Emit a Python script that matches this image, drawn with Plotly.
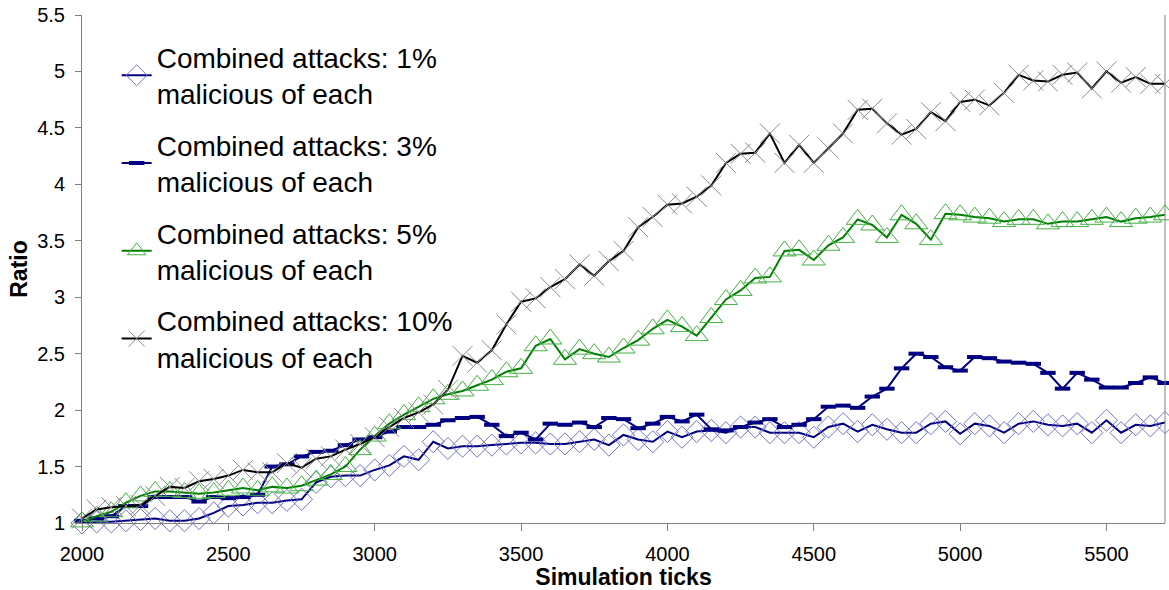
import plotly.graph_objects as go

# Simulation ticks sampled every 50 ticks from 2000 to 5700
ticks = list(range(2000, 5701, 50))

ratio_1pct = [1.00, 1.01, 1.01, 1.02, 1.03, 1.04, 1.02, 1.02, 1.04, 1.09,
              1.15, 1.16, 1.18, 1.18, 1.20, 1.21, 1.36, 1.41, 1.42, 1.42,
              1.47, 1.51, 1.59, 1.56, 1.72, 1.66, 1.68, 1.68, 1.69, 1.70,
              1.71, 1.71, 1.70, 1.70, 1.72, 1.74, 1.69, 1.78, 1.74, 1.72,
              1.81, 1.76, 1.81, 1.82, 1.80, 1.85, 1.85, 1.80, 1.80, 1.80,
              1.76, 1.85, 1.88, 1.81, 1.87, 1.83, 1.80, 1.80, 1.88, 1.90,
              1.79, 1.88, 1.86, 1.80, 1.88, 1.90, 1.87, 1.86, 1.88, 1.80,
              1.91, 1.80, 1.87, 1.86, 1.89]

ratio_3pct = [1.02, 1.04, 1.06, 1.15, 1.15, 1.23, 1.23, 1.23, 1.19, 1.23,
              1.22, 1.23, 1.25, 1.50, 1.52, 1.59, 1.63, 1.64, 1.69, 1.74,
              1.76, 1.81, 1.85, 1.85, 1.87, 1.91, 1.93, 1.94, 1.87, 1.77,
              1.80, 1.74, 1.88, 1.87, 1.89, 1.85, 1.93, 1.92, 1.84, 1.88,
              1.94, 1.90, 1.96, 1.83, 1.82, 1.85, 1.89, 1.92, 1.85, 1.87,
              1.92, 2.03, 2.04, 2.02, 2.12, 2.19, 2.37, 2.50, 2.47, 2.38,
              2.35, 2.47, 2.46, 2.43, 2.42, 2.41, 2.33, 2.19, 2.33, 2.27,
              2.20, 2.20, 2.24, 2.29, 2.24]

ratio_5pct = [1.01, 1.06, 1.10, 1.18, 1.24, 1.28, 1.28, 1.27, 1.26, 1.27,
              1.29, 1.31, 1.29, 1.32, 1.31, 1.33, 1.38, 1.43, 1.50, 1.65,
              1.77, 1.88, 1.96, 2.03, 2.10, 2.14, 2.17, 2.22, 2.27, 2.34,
              2.37, 2.57, 2.63, 2.45, 2.54, 2.50, 2.47, 2.55, 2.62, 2.72,
              2.80, 2.74, 2.66, 2.82, 2.98, 3.06, 3.17, 3.18, 3.41, 3.42,
              3.33, 3.46, 3.53, 3.69, 3.64, 3.53, 3.73, 3.65, 3.51, 3.74,
              3.73, 3.71, 3.70, 3.67, 3.69, 3.69, 3.65, 3.67, 3.67, 3.69,
              3.71, 3.67, 3.70, 3.71, 3.73]

ratio_10pct = [1.04, 1.12, 1.14, 1.15, 1.16, 1.24, 1.32, 1.31, 1.37, 1.39,
               1.42, 1.47, 1.45, 1.45, 1.53, 1.49, 1.57, 1.59, 1.65, 1.70,
               1.76, 1.85, 1.93, 1.98, 2.05, 2.18, 2.48, 2.42, 2.53, 2.76,
               2.96, 2.99, 3.09, 3.16, 3.29, 3.19, 3.32, 3.41, 3.62, 3.71,
               3.82, 3.83, 3.89, 3.99, 4.19, 4.27, 4.28, 4.45, 4.19, 4.35,
               4.19, 4.32, 4.45, 4.66, 4.67, 4.54, 4.44, 4.49, 4.64, 4.56,
               4.73, 4.75, 4.70, 4.81, 4.97, 4.92, 4.91, 4.97, 4.99, 4.85,
               5.00, 4.90, 4.95, 4.89, 4.89]

series_names = [
    "Combined attacks: 1%<br>malicious of each",
    "Combined attacks: 3%<br>malicious of each",
    "Combined attacks: 5%<br>malicious of each",
    "Combined attacks: 10%<br>malicious of each",
]

x_tick_values = [2000, 2500, 3000, 3500, 4000, 4500, 5000, 5500]
x_tick_labels = ["2000", "2500", "3000", "3500", "4000", "4500", "5000", "5500"]
y_tick_values = [1, 1.5, 2, 2.5, 3, 3.5, 4, 4.5, 5, 5.5]
y_tick_labels = ["1", "1.5", "2", "2.5", "3", "3.5", "4", "4.5", "5", "5.5"]

FONT = "Liberation Sans, Arial, sans-serif"

styles = [
    dict(line_color="#000080", symbol="diamond-open", msize=17,
         mcolor="#7474c4", mwidth=1),
    dict(line_color="#000080", symbol="line-ew", msize=11,
         mcolor="#000080", mwidth=4),
    dict(line_color="#008000", symbol="triangle-up-open", msize=20,
         mcolor="#45b045", mwidth=1),
    dict(line_color="#000000", symbol="x-thin-open", msize=20,
         mcolor="#8a8a8a", mwidth=1),
]

fig = go.Figure()
for i, (name, ys, st) in enumerate(zip(series_names,
                                       [ratio_1pct, ratio_3pct, ratio_5pct, ratio_10pct],
                                       styles)):
    fig.add_trace(go.Scatter(
        x=ticks, y=ys, name=name, mode="lines+markers",
        legendgroup=f"g{i}",
        line=dict(color=st["line_color"], width=2),
        marker=dict(symbol=st["symbol"], size=st["msize"], color=st["mcolor"],
                    line=dict(color=st["mcolor"], width=st["mwidth"])),
        cliponaxis=False,
    ))

axis_common = dict(
    showgrid=False, zeroline=False, showline=True, linecolor="#808080",
    linewidth=1, ticks="outside", tickcolor="#808080",
    tickfont=dict(family=FONT, size=20, color="#000000"),
    ticklabelstandoff=6,
)

fig.update_xaxes(
    range=[2000, 5700], tickvals=x_tick_values, ticktext=x_tick_labels,
    ticklen=7,
    title=dict(text="<b>Simulation ticks</b>", standoff=6,
               font=dict(family=FONT, size=23, color="#000000")),
    **axis_common,
)
fig.update_yaxes(
    range=[1, 5.5], tickvals=y_tick_values, ticktext=y_tick_labels,
    ticklen=6,
    title=dict(text="<b>Ratio</b>", standoff=3,
               font=dict(family=FONT, size=23, color="#000000")),
    **axis_common,
)

# thin frame line on the right edge of the plotting area
fig.add_shape(type="line", xref="paper", yref="paper", x0=1, x1=1, y0=0, y1=1,
              line=dict(color="#808080", width=1))

fig.update_layout(
    width=1169, height=590,
    margin=dict(l=82, r=4, t=15, b=67),
    paper_bgcolor="white", plot_bgcolor="white",
    font=dict(family=FONT, color="#000000"),
    legend=dict(
        x=0.032, y=0.966, xanchor="left", yanchor="top",
        bgcolor="rgba(0,0,0,0)", font=dict(family=FONT, size=28, color="#000000"),
        tracegroupgap=12, itemsizing="trace",
    ),
)

fig.write_html("out.html")
